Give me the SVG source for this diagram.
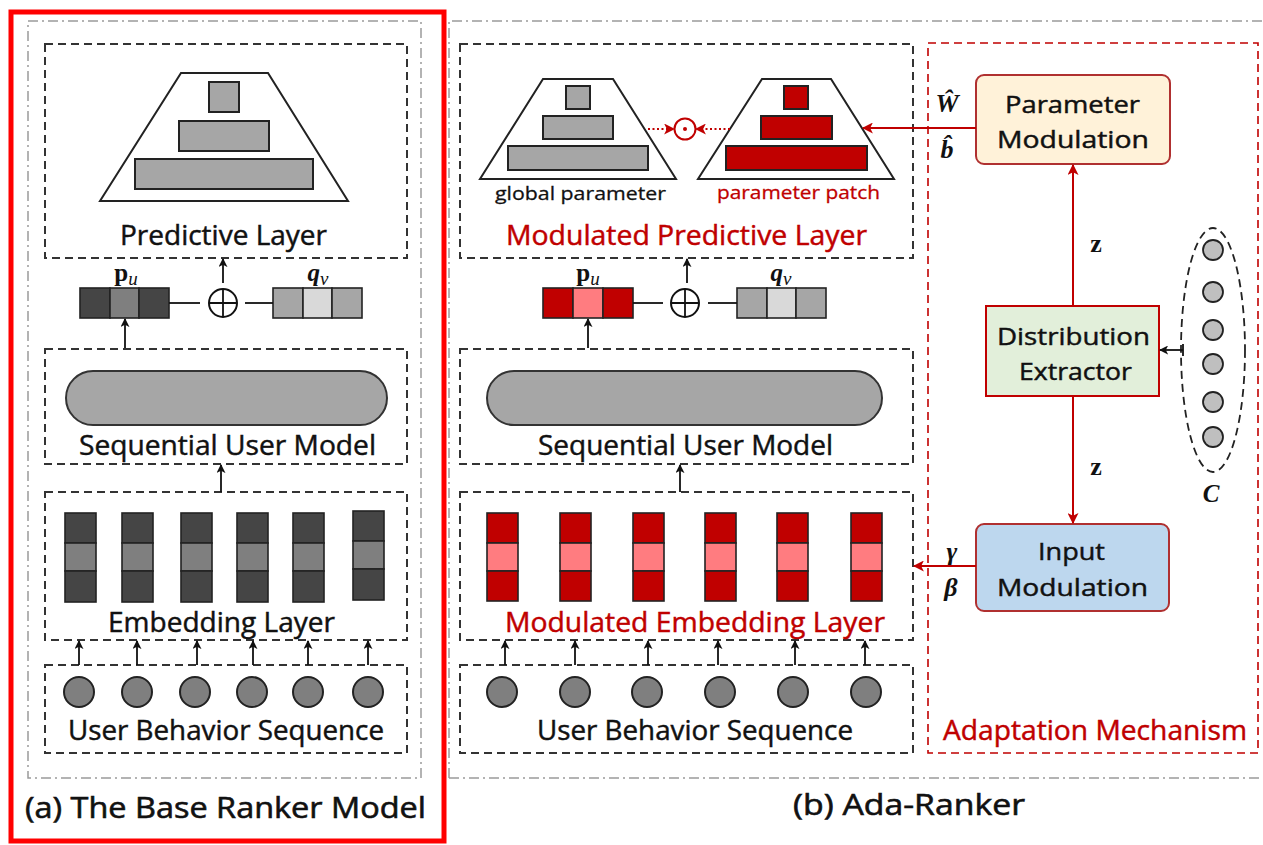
<svg xmlns="http://www.w3.org/2000/svg" width="1263" height="845" viewBox="0 0 1263 845">
  <defs>
    <marker id="ah" viewBox="0 0 10 10" refX="9" refY="5" markerUnits="userSpaceOnUse" markerWidth="9" markerHeight="9" orient="auto">
      <path d="M0,0 L10,5 L0,10 L2.5,5 z" fill="#111"/>
    </marker>
    <marker id="ahr" viewBox="0 0 10 10" refX="9" refY="5" markerUnits="userSpaceOnUse" markerWidth="11" markerHeight="11" orient="auto">
      <path d="M0,0 L10,5 L0,10 L2.5,5 z" fill="#c00000"/>
    </marker>
    <style>
      .frame { fill: none; stroke: #ff0000; stroke-width: 5; }
      .panel { fill: none; stroke: #9a9a9a; stroke-width: 1.5; stroke-dasharray: 10 4 2 4; }
      .layer { fill: none; stroke: #333; stroke-width: 2; stroke-dasharray: 8 5; }
      .mech { fill: none; stroke: #c00000; stroke-width: 1.6; stroke-dasharray: 8 5; }
      .trap { fill: #fff; stroke: #222; stroke-width: 2; }
      .g { fill: #a6a6a6; stroke: #222; stroke-width: 2; }
      .rd { fill: #c00000; stroke: #222; stroke-width: 2; }
      .pill { fill: #a6a6a6; stroke: #333; stroke-width: 2; }
      .dk { fill: #454545; stroke: #222; stroke-width: 1.6; }
      .md { fill: #7f7f7f; stroke: #222; stroke-width: 1.6; }
      .lt { fill: #d9d9d9; stroke: #222; stroke-width: 1.6; }
      .gr { fill: #a6a6a6; stroke: #222; stroke-width: 1.6; }
      .r1 { fill: #c00000; stroke: #222; stroke-width: 1.6; }
      .r2 { fill: #ff7c80; stroke: #222; stroke-width: 1.6; }
      .dot { fill: #7f7f7f; stroke: #222; stroke-width: 2; }
      .cdot { fill: #bfbfbf; stroke: #222; stroke-width: 1.8; }
      .ar { fill: none; stroke: #111; stroke-width: 1.8; marker-end: url(#ah); }
      .arr { fill: none; stroke: #c00000; stroke-width: 2; marker-end: url(#ahr); }
      .ard { fill: none; stroke: #c00000; stroke-width: 2; stroke-dasharray: 2 2.5; marker-end: url(#ahr); }
      .ln { fill: none; stroke: #111; stroke-width: 1.8; }
      .t, .tb, .ts, .cap { font-family: "Open Sans", "Liberation Sans", sans-serif; fill: #111; stroke: #111; stroke-width: 0.45; text-anchor: middle; }
      .t { font-size: 27px; }
      .tb { font-size: 24px; }
      .ts { font-size: 19px; stroke-width: 0.3; }
      .cap { font-size: 29px; stroke-width: 0.6; }
      .red { fill: #c00000; stroke: #c00000; }
      .m { font-family: "Liberation Serif", serif; font-weight: bold; fill: #111; text-anchor: middle; }
      .box1 { fill: #fff2d9; stroke: #b03030; stroke-width: 2; }
      .box2 { fill: #e2efda; stroke: #c00000; stroke-width: 2; }
      .box3 { fill: #bdd7ee; stroke: #b03030; stroke-width: 2; }
    </style>
  </defs>

  <!-- outer panels -->
  <rect class="frame" x="11" y="12" width="433" height="829"/>
  <rect class="panel" x="28" y="21" width="393" height="757"/>
  <path class="panel" d="M449,778 L449,21 L1263,21 M449,778 L1263,778"/>

  <!-- (a) base ranker -->
  <g id="a-predictive">
    <rect class="layer" x="45" y="44" width="362" height="214"/>
    <polygon class="trap" points="181,73 268,73 348,201 100,201"/>
    <rect class="g" x="209" y="82" width="30" height="30"/>
    <rect class="g" x="179" y="121" width="90" height="30"/>
    <rect class="g" x="135" y="159" width="178" height="30"/>
    <text class="t" x="223.5" y="245" textLength="207" lengthAdjust="spacingAndGlyphs">Predictive Layer</text>
  </g>

  <g id="a-vectors">
    <text class="m" x="126" y="281" font-size="25">p<tspan font-style="italic" font-weight="normal" font-size="19" dy="4">u</tspan></text>
    <rect class="dk" x="80" y="288" width="30" height="30"/>
    <rect class="md" x="110" y="288" width="29" height="30"/>
    <rect class="dk" x="139" y="288" width="30" height="30"/>
    <circle cx="223" cy="303" r="14" fill="#fff" stroke="#111" stroke-width="2"/>
    <path class="ln" d="M209,303 H237 M223,289 V317"/>
    <text class="m" x="318" y="281" font-size="25" font-style="italic">q<tspan font-weight="normal" font-size="19" dy="4">v</tspan></text>
    <rect class="gr" x="273" y="288" width="30" height="30"/>
    <rect class="lt" x="303" y="288" width="29" height="30"/>
    <rect class="gr" x="332" y="288" width="30" height="30"/>
  </g>

  <g id="a-sequential">
    <rect class="layer" x="45" y="349" width="362" height="115"/>
    <rect class="pill" x="66" y="371" width="321" height="54" rx="27"/>
    <text class="t" x="227.5" y="455" textLength="297" lengthAdjust="spacingAndGlyphs">Sequential User Model</text>
  </g>

  <g id="a-embedding">
    <rect class="layer" x="45" y="492" width="362" height="148"/>
    <g>
      <rect class="dk" x="65" y="513" width="31" height="30"/><rect class="md" x="65" y="543" width="31" height="28"/><rect class="dk" x="65" y="571" width="31" height="31"/>
      <rect class="dk" x="122" y="513" width="31" height="30"/><rect class="md" x="122" y="543" width="31" height="28"/><rect class="dk" x="122" y="571" width="31" height="31"/>
      <rect class="dk" x="181" y="513" width="31" height="30"/><rect class="md" x="181" y="543" width="31" height="28"/><rect class="dk" x="181" y="571" width="31" height="31"/>
      <rect class="dk" x="237" y="513" width="31" height="30"/><rect class="md" x="237" y="543" width="31" height="28"/><rect class="dk" x="237" y="571" width="31" height="31"/>
      <rect class="dk" x="293" y="513" width="31" height="30"/><rect class="md" x="293" y="543" width="31" height="28"/><rect class="dk" x="293" y="571" width="31" height="31"/>
      <rect class="dk" x="353" y="511" width="31" height="30"/><rect class="md" x="353" y="541" width="31" height="28"/><rect class="dk" x="353" y="569" width="31" height="31"/>
    </g>
    <text class="t" x="221.5" y="632" textLength="227" lengthAdjust="spacingAndGlyphs">Embedding Layer</text>
  </g>

  <g id="a-behavior">
    <rect class="layer" x="45" y="665" width="362" height="88"/>
    <circle class="dot" cx="79" cy="692" r="15"/>
    <circle class="dot" cx="137" cy="692" r="15"/>
    <circle class="dot" cx="195" cy="692" r="15"/>
    <circle class="dot" cx="252" cy="692" r="15"/>
    <circle class="dot" cx="308" cy="692" r="15"/>
    <circle class="dot" cx="368" cy="692" r="15"/>
    <text class="t" x="226" y="740" textLength="316" lengthAdjust="spacingAndGlyphs">User Behavior Sequence</text>
  </g>

  <text id="caption-a" class="cap" x="225.5" y="818" textLength="401" lengthAdjust="spacingAndGlyphs">(a) The Base Ranker Model</text>

  <!-- (b) Ada-Ranker -->
  <g id="b-predictive">
    <rect class="layer" x="460" y="44" width="453" height="214"/>
    <polygon class="trap" points="543,79 613,79 676,179 480,179"/>
    <rect class="g" x="566" y="86" width="24" height="23"/>
    <rect class="g" x="543" y="116" width="70" height="23"/>
    <rect class="g" x="508" y="146" width="140" height="24"/>
    <polygon class="trap" points="762,79 831,79 894,179 698,179"/>
    <rect class="rd" x="784" y="86" width="24" height="23"/>
    <rect class="rd" x="761" y="116" width="71" height="23"/>
    <rect class="rd" x="726" y="146" width="141" height="24"/>
    <circle cx="685" cy="129" r="10.5" fill="#fff" stroke="#c00000" stroke-width="2"/>
    <circle cx="685" cy="129" r="2" fill="#c00000"/>
    <text class="ts" x="580.5" y="200" textLength="171" lengthAdjust="spacingAndGlyphs">global parameter</text>
    <text class="ts red" x="798.5" y="199" textLength="163" lengthAdjust="spacingAndGlyphs">parameter patch</text>
    <text class="t red" x="686.5" y="245" textLength="361" lengthAdjust="spacingAndGlyphs">Modulated Predictive Layer</text>
  </g>

  <g id="b-vectors">
    <text class="m" x="588" y="281" font-size="25">p<tspan font-style="italic" font-weight="normal" font-size="19" dy="4">u</tspan></text>
    <rect class="r1" x="543" y="288" width="30" height="30"/>
    <rect class="r2" x="573" y="288" width="30" height="30"/>
    <rect class="r1" x="603" y="288" width="30" height="30"/>
    <circle cx="685" cy="303" r="14" fill="#fff" stroke="#111" stroke-width="2"/>
    <path class="ln" d="M671,303 H699 M685,289 V317"/>
    <text class="m" x="781" y="281" font-size="25" font-style="italic">q<tspan font-weight="normal" font-size="19" dy="4">v</tspan></text>
    <rect class="gr" x="737" y="288" width="30" height="30"/>
    <rect class="lt" x="767" y="288" width="29" height="30"/>
    <rect class="gr" x="796" y="288" width="30" height="30"/>
  </g>

  <g id="b-sequential">
    <rect class="layer" x="460" y="349" width="453" height="115"/>
    <rect class="pill" x="487" y="371" width="395" height="54" rx="27"/>
    <text class="t" x="685.5" y="455" textLength="295" lengthAdjust="spacingAndGlyphs">Sequential User Model</text>
  </g>

  <g id="b-embedding">
    <rect class="layer" x="460" y="492" width="453" height="148"/>
    <g>
      <rect class="r1" x="487" y="513" width="31" height="30"/><rect class="r2" x="487" y="543" width="31" height="28"/><rect class="r1" x="487" y="571" width="31" height="30"/>
      <rect class="r1" x="560" y="513" width="31" height="30"/><rect class="r2" x="560" y="543" width="31" height="28"/><rect class="r1" x="560" y="571" width="31" height="30"/>
      <rect class="r1" x="633" y="513" width="31" height="30"/><rect class="r2" x="633" y="543" width="31" height="28"/><rect class="r1" x="633" y="571" width="31" height="30"/>
      <rect class="r1" x="705" y="513" width="31" height="30"/><rect class="r2" x="705" y="543" width="31" height="28"/><rect class="r1" x="705" y="571" width="31" height="30"/>
      <rect class="r1" x="777" y="513" width="31" height="30"/><rect class="r2" x="777" y="543" width="31" height="28"/><rect class="r1" x="777" y="571" width="31" height="30"/>
      <rect class="r1" x="851" y="513" width="31" height="30"/><rect class="r2" x="851" y="543" width="31" height="28"/><rect class="r1" x="851" y="571" width="31" height="30"/>
    </g>
    <text class="t red" x="695" y="632" textLength="380" lengthAdjust="spacingAndGlyphs">Modulated Embedding Layer</text>
  </g>

  <g id="b-behavior">
    <rect class="layer" x="460" y="665" width="453" height="88"/>
    <circle class="dot" cx="502" cy="692" r="15"/>
    <circle class="dot" cx="575" cy="692" r="15"/>
    <circle class="dot" cx="647" cy="692" r="15"/>
    <circle class="dot" cx="720" cy="692" r="15"/>
    <circle class="dot" cx="793" cy="692" r="15"/>
    <circle class="dot" cx="866" cy="692" r="15"/>
    <text class="t" x="695" y="740" textLength="316" lengthAdjust="spacingAndGlyphs">User Behavior Sequence</text>
  </g>

  <!-- adaptation mechanism -->
  <g id="mechanism">
    <rect class="mech" x="928" y="43" width="330" height="710"/>
    <text class="t red" x="1095" y="740" textLength="304" lengthAdjust="spacingAndGlyphs">Adaptation Mechanism</text>
  </g>

  <g id="param-mod">
    <rect class="box1" x="976" y="75" width="194" height="89" rx="8"/>
    <text class="tb" x="1072.5" y="113" textLength="135" lengthAdjust="spacingAndGlyphs">Parameter</text>
    <text class="tb" x="1073" y="148" textLength="152" lengthAdjust="spacingAndGlyphs">Modulation</text>
  </g>

  <g id="dist-extractor">
    <rect class="box2" x="986" y="306" width="173" height="90"/>
    <text class="tb" x="1073.5" y="345" textLength="153" lengthAdjust="spacingAndGlyphs">Distribution</text>
    <text class="tb" x="1075.5" y="380" textLength="113" lengthAdjust="spacingAndGlyphs">Extractor</text>
  </g>

  <g id="input-mod">
    <rect class="box3" x="976" y="524" width="193" height="87" rx="8"/>
    <text class="tb" x="1071.5" y="560" textLength="67" lengthAdjust="spacingAndGlyphs">Input</text>
    <text class="tb" x="1072.5" y="596" textLength="151" lengthAdjust="spacingAndGlyphs">Modulation</text>
  </g>

  <g id="context">
    <ellipse cx="1213" cy="350" rx="32" ry="122" fill="none" stroke="#222" stroke-width="1.8" stroke-dasharray="8 5"/>
    <circle class="cdot" cx="1213" cy="250" r="10"/>
    <circle class="cdot" cx="1213" cy="292" r="10"/>
    <circle class="cdot" cx="1213" cy="330" r="10"/>
    <circle class="cdot" cx="1213" cy="364" r="10"/>
    <circle class="cdot" cx="1213" cy="402" r="10"/>
    <circle class="cdot" cx="1213" cy="437" r="10"/>
    <text class="m" x="1211" y="502" font-size="25" font-style="italic">C</text>
  </g>

  <!-- symbols on connectors -->
  <g id="symbols">
    <text class="m" x="947" y="112" font-size="26" font-style="italic">Ŵ</text>
    <text class="m" x="947" y="158" font-size="26" font-style="italic">b̂</text>
    <text class="m" x="1096" y="252" font-size="26">z</text>
    <text class="m" x="1096" y="475" font-size="26">z</text>
    <text class="m" x="952" y="560" font-size="26" font-style="italic">γ</text>
    <text class="m" x="951" y="596" font-size="26" font-style="italic">β</text>
  </g>

  <text id="caption-b" class="cap" x="909" y="815" textLength="232" lengthAdjust="spacingAndGlyphs">(b) Ada-Ranker</text>

  <!-- connectors -->
  <g id="connectors">
    <line class="ar" x1="223" y1="283" x2="223" y2="259"/>
    <line class="ln" x1="169" y1="303" x2="200" y2="303"/>
    <line class="ln" x1="245" y1="303" x2="273" y2="303"/>
    <line class="ar" x1="125" y1="348" x2="125" y2="319"/>
    <line class="ar" x1="221" y1="492" x2="221" y2="465"/>
    <line class="ar" x1="79" y1="665" x2="79" y2="641"/>
    <line class="ar" x1="137" y1="665" x2="137" y2="641"/>
    <line class="ar" x1="197" y1="665" x2="197" y2="641"/>
    <line class="ar" x1="253" y1="665" x2="253" y2="641"/>
    <line class="ar" x1="308" y1="665" x2="308" y2="641"/>
    <line class="ar" x1="368" y1="665" x2="368" y2="641"/>

    <line class="ar" x1="687" y1="283" x2="687" y2="259"/>
    <line class="ln" x1="633" y1="303" x2="663" y2="303"/>
    <line class="ln" x1="708" y1="303" x2="737" y2="303"/>
    <line class="ar" x1="588" y1="348" x2="588" y2="319"/>
    <line class="ar" x1="680" y1="492" x2="680" y2="465"/>
    <line class="ar" x1="505" y1="665" x2="505" y2="641"/>
    <line class="ar" x1="575" y1="665" x2="575" y2="641"/>
    <line class="ar" x1="648" y1="665" x2="648" y2="641"/>
    <line class="ar" x1="718" y1="665" x2="718" y2="641"/>
    <line class="ar" x1="795" y1="665" x2="795" y2="641"/>
    <line class="ar" x1="865" y1="665" x2="865" y2="641"/>

    <line class="ard" x1="648" y1="129" x2="674" y2="129"/>
    <line class="ard" x1="730" y1="129" x2="696" y2="129"/>
    <line class="arr" x1="976" y1="128" x2="863" y2="128"/>
    <line class="arr" x1="1073" y1="306" x2="1073" y2="165"/>
    <line class="arr" x1="1073" y1="396" x2="1073" y2="523"/>
    <line class="arr" x1="976" y1="566" x2="914" y2="566"/>
    <line class="ar" x1="1183" y1="350" x2="1160" y2="350"/>
    <line class="ln" x1="1183" y1="344" x2="1183" y2="356"/>
  </g>
</svg>
